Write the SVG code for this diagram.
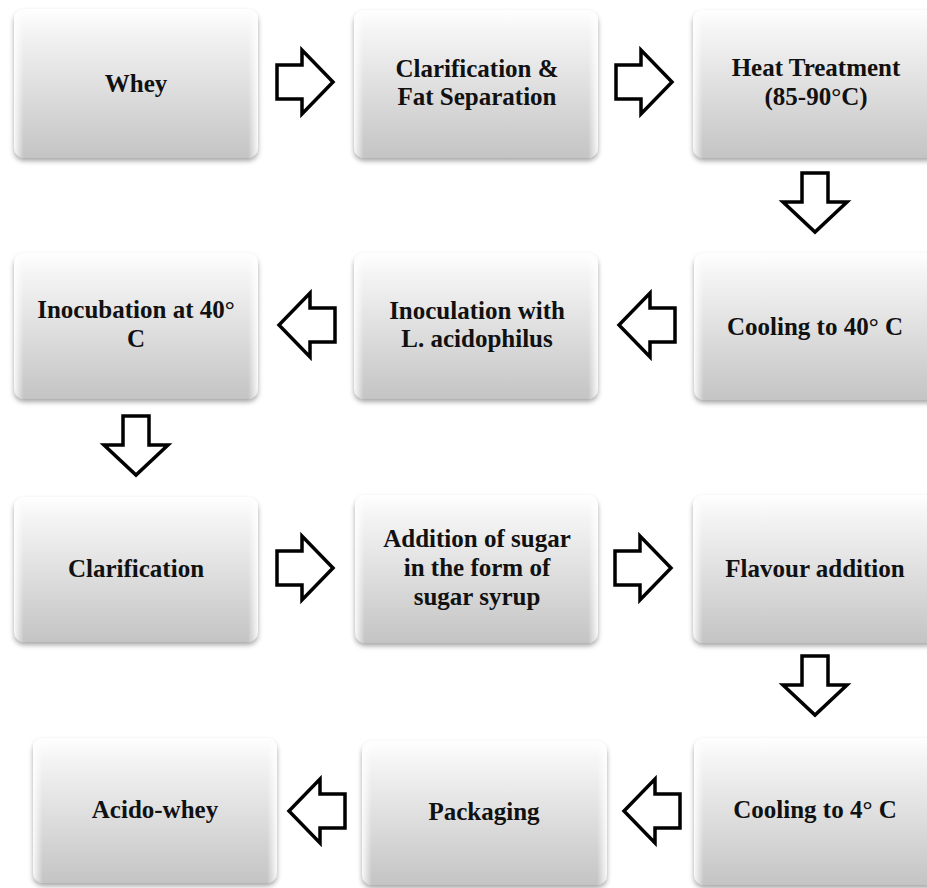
<svg xmlns="http://www.w3.org/2000/svg" width="927" height="888" viewBox="0 0 927 888">
<defs>
<linearGradient id="g" x1="0" y1="0" x2="0" y2="1">
<stop offset="0" stop-color="#ffffff"/>
<stop offset="0.15" stop-color="#f4f4f4"/>
<stop offset="1" stop-color="#c4c4c4"/>
</linearGradient>
<linearGradient id="hl" x1="0" y1="0" x2="1" y2="0">
<stop offset="0" stop-color="#ffffff" stop-opacity="0.9"/>
<stop offset="0.04" stop-color="#ffffff" stop-opacity="0"/>
<stop offset="0.96" stop-color="#ffffff" stop-opacity="0"/>
<stop offset="1" stop-color="#ffffff" stop-opacity="0.9"/>
</linearGradient>
<filter id="sh" x="-10%" y="-10%" width="120%" height="125%">
<feDropShadow dx="0" dy="3" stdDeviation="2.5" flood-color="#000" flood-opacity="0.35"/>
</filter>
<path id="ra" d="M0,-17 L25,-17 L25,-32 L56,0 L25,32 L25,17 L0,17 Z"/>
<path id="la" d="M0,-17 L-25,-17 L-25,-32 L-56,0 L-25,32 L-25,17 L0,17 Z"/>
<path id="da" d="M-13,0 L13,0 L13,29 L32,29 L0,59 L-32,29 L-13,29 Z"/>
</defs>
<style>
.box{fill:url(#g);filter:url(#sh);}
.hl{fill:url(#hl);}
.t{font-family:"Liberation Serif","Times New Roman",serif;font-weight:bold;font-size:25px;fill:#111;text-anchor:middle;}
.arr use{fill:#fff;stroke:#000;stroke-width:3.5;stroke-linejoin:miter;}
</style>
<rect width="927" height="888" fill="#fff"/>

<g id="n1"><rect class="box" x="14" y="9" width="244" height="149" rx="10"/><rect class="hl" x="14" y="9" width="244" height="149" rx="10"/><text class="t" x="136" y="92">Whey</text></g>
<g id="n2"><rect class="box" x="354" y="10" width="244" height="148" rx="10"/><rect class="hl" x="354" y="10" width="244" height="148" rx="10"/><text class="t" x="477" y="77">Clarification &amp;</text><text class="t" x="477" y="105">Fat Separation</text></g>
<g id="n3"><rect class="box" x="693" y="10" width="244" height="148" rx="10"/><rect class="hl" x="693" y="10" width="244" height="148" rx="10"/><text class="t" x="816" y="76">Heat Treatment</text><text class="t" x="816" y="105">(85-90°C)</text></g>

<g id="n4"><rect class="box" x="14" y="253" width="244" height="146" rx="10"/><rect class="hl" x="14" y="253" width="244" height="146" rx="10"/><text class="t" x="136" y="318">Inocubation at 40°</text><text class="t" x="136" y="347">C</text></g>
<g id="n5"><rect class="box" x="354" y="253" width="244" height="146" rx="10"/><rect class="hl" x="354" y="253" width="244" height="146" rx="10"/><text class="t" x="477" y="319">Inoculation with</text><text class="t" x="477" y="347">L. acidophilus</text></g>
<g id="n6"><rect class="box" x="694" y="253" width="244" height="147" rx="10"/><rect class="hl" x="694" y="253" width="244" height="147" rx="10"/><text class="t" x="815" y="335">Cooling to 40° C</text></g>

<g id="n7"><rect class="box" x="14" y="497" width="244" height="145" rx="10"/><rect class="hl" x="14" y="497" width="244" height="145" rx="10"/><text class="t" x="136" y="577">Clarification</text></g>
<g id="n8"><rect class="box" x="355" y="495" width="243" height="148" rx="10"/><rect class="hl" x="355" y="495" width="243" height="148" rx="10"/><text class="t" x="477" y="547">Addition of sugar</text><text class="t" x="477" y="576">in the form of</text><text class="t" x="477" y="605">sugar syrup</text></g>
<g id="n9"><rect class="box" x="693" y="495" width="244" height="148" rx="10"/><rect class="hl" x="693" y="495" width="244" height="148" rx="10"/><text class="t" x="815" y="577">Flavour addition</text></g>

<g id="n10"><rect class="box" x="33" y="738" width="244" height="145" rx="10"/><rect class="hl" x="33" y="738" width="244" height="145" rx="10"/><text class="t" x="155" y="818">Acido-whey</text></g>
<g id="n11"><rect class="box" x="362" y="741" width="245" height="144" rx="10"/><rect class="hl" x="362" y="741" width="245" height="144" rx="10"/><text class="t" x="484" y="820">Packaging</text></g>
<g id="n12"><rect class="box" x="694" y="738" width="244" height="147" rx="10"/><rect class="hl" x="694" y="738" width="244" height="147" rx="10"/><text class="t" x="815" y="818">Cooling to 4° C</text></g>

<g id="connectors" class="arr">
<use href="#ra" x="277" y="82"/>
<use href="#ra" x="616" y="82"/>
<use href="#da" x="815" y="173"/>
<use href="#la" x="675" y="325"/>
<use href="#la" x="335" y="325"/>
<use href="#da" x="136" y="416"/>
<use href="#ra" x="277" y="568"/>
<use href="#ra" x="615" y="568"/>
<use href="#da" x="815" y="656"/>
<use href="#la" x="680" y="811"/>
<use href="#la" x="345" y="811"/>
</g>
</svg>
